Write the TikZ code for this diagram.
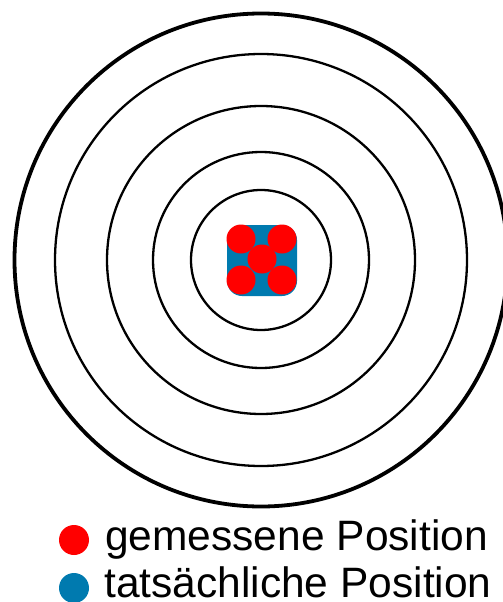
\documentclass[tikz,border=0pt]{standalone}
\usepackage{fontspec}
\setmainfont{Liberation Sans}
\definecolor{tblue}{RGB}{0,122,175}
\tikzset{
  ring/.style={line width=2.3pt},
  dot/.style={circle, inner sep=0pt, minimum size=30pt},
  lgtext/.style={anchor=base west, inner sep=0pt, font=\fontsize{42.5}{50}\selectfont}
}
\begin{document}
\begin{tikzpicture}[x=1pt,y=-1pt]
\useasboundingbox (0,0) rectangle (503,602);
\clip (0,0) rectangle (503,602);
\coordinate (M) at (261,260);
% target rings
\draw[line width=3.8pt] (M) circle (246.5pt);
\foreach \r in {206,154,108,70} {
  \draw[ring] (M) circle (\r pt);
}
% true position and measured hits
\fill[tblue, rounded corners=15pt] (227,225) rectangle (297,296);
\foreach \p in {(241,239),(282,239),(262,259),(241,280),(282,280)} {
  \fill[red] \p circle (14.5pt);
}
% legend
\node[dot, fill=red] (rdot) at (74,540) {};
\node[dot, fill=tblue] (bdot) at (74,588) {};
\node[lgtext] (rtext) at (105,550) {gemessene Position};
\node[lgtext] (btext) at (104,597) {tatsächliche Position};
\end{tikzpicture}
\end{document}
